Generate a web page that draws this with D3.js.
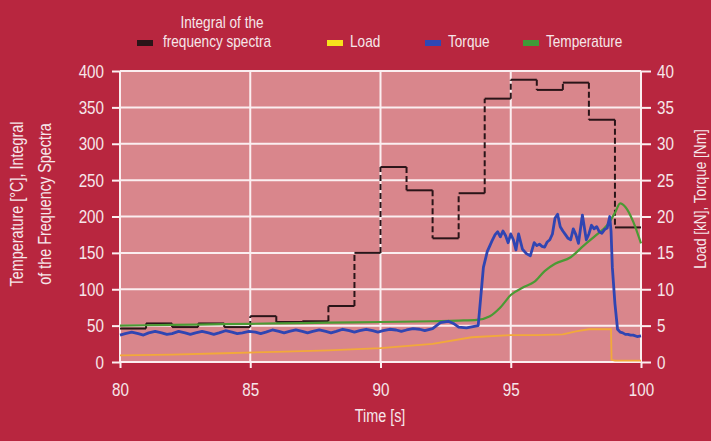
<!DOCTYPE html>
<html>
<head>
<script src="https://cdnjs.cloudflare.com/ajax/libs/d3/7.8.5/d3.min.js"></script>
<style>
  body { margin: 0; background: #b8263f; }
  svg text { font-family: "Liberation Sans", Arimo, sans-serif; fill: #f6e6ea; }
</style>
</head>
<body>
<div id="viz"></div>
<script>
// integral of the frequency spectra: one value per 1 s step (left axis)
var integralT = [80, 81, 82, 83, 84, 85, 86, 87, 88, 89, 90, 91, 92, 93, 94, 95, 96, 97, 98, 99, 100];
var integralV = [46, 53, 48, 53, 48, 63, 55, 56, 77, 150, 268, 236, 170, 232, 362, 388, 374, 384, 333, 185];

// temperature [°C] (left axis)
var tempT = [80, 82, 84, 86, 88, 90, 92, 93, 93.7, 94.2, 94.6, 95, 95.5, 95.9, 96.3, 96.7, 97.3, 97.8, 98.3, 98.7, 99, 99.2, 99.4, 99.7, 100];
var tempV = [50, 51, 52, 53, 54, 55, 56, 57, 58, 63, 75, 92, 103, 110, 125, 135, 144, 160, 175, 188, 205, 218, 213, 193, 163];

// load [kN] (right axis)
var loadT = [80, 82, 84, 86, 88, 90, 92, 93.5, 95, 96, 97, 97.5, 98, 98.85, 98.87, 99, 100];
var loadV = [0.9, 1.0, 1.2, 1.4, 1.6, 1.9, 2.5, 3.4, 3.7, 3.7, 3.8, 4.2, 4.5, 4.5, 0.3, 0.2, 0.2];

// torque [Nm] (right axis)
var torqueT = [80, 80.2, 80.45, 80.7, 80.9, 81.1, 81.35, 81.6, 81.8, 82.0, 82.25, 82.5, 82.7, 82.9, 83.15, 83.4, 83.6, 83.8,
  84.05, 84.3, 84.5, 84.7, 84.95, 85.2, 85.4, 85.6, 85.85, 86.1, 86.3, 86.5, 86.75, 87.0, 87.2, 87.4, 87.65, 87.9, 88.1,
  88.3, 88.55, 88.8, 89, 89.2, 89.45, 89.7, 89.9, 90.1, 90.35, 90.6, 90.8, 91.0, 91.25, 91.5, 91.7, 92, 92.3, 92.6, 92.8,
  93, 93.3, 93.6, 93.75,
  93.85, 93.95, 94.1, 94.2, 94.3, 94.4, 94.5, 94.6, 94.7, 94.8, 94.9, 95, 95.1, 95.2, 95.3, 95.45, 95.6, 95.75, 95.9,
  96.0, 96.1, 96.2, 96.3, 96.4, 96.5, 96.6, 96.7, 96.8, 96.9, 97.0, 97.1, 97.2, 97.3, 97.4, 97.5, 97.6, 97.75, 97.9,
  98.0, 98.1, 98.2, 98.3, 98.4, 98.5, 98.6, 98.7, 98.8, 98.85, 98.9, 99, 99.1, 99.2, 99.3, 99.4, 99.5, 99.6, 99.7,
  99.85, 100];
var torqueV = [3.7, 3.9, 4.1, 3.9, 3.7, 4.0, 4.2, 4.0, 3.8, 3.9, 4.2, 4.0, 3.8, 4.0, 4.2, 4.0, 3.8, 4.0,
  4.3, 4.1, 3.9, 4.0, 4.2, 4.1, 3.9, 4.1, 4.4, 4.2, 4.0, 4.2, 4.4, 4.2, 4.0, 4.2, 4.4, 4.2, 4.0,
  4.2, 4.5, 4.3, 4.1, 4.3, 4.5, 4.3, 4.1, 4.3, 4.5, 4.4, 4.2, 4.4, 4.6, 4.5, 4.3, 4.6, 5.4, 5.6, 5.3,
  4.8, 4.7, 4.9, 5.0,
  9, 13, 15.2, 16.0, 16.8, 17.5, 17.9, 17.2, 18.0, 17.4, 16.4, 17.6, 16.8, 15.4, 17.6, 15.5, 14.9, 14.6, 16.4,
  16.0, 16.2, 15.9, 15.8, 16.5, 16.8, 17.6, 19.8, 20.3, 18.6, 18.0, 17.5, 17.0, 16.8, 18.3, 17.5, 16.3, 20.2, 16.8,
  17.6, 18.8, 18.3, 18.6, 17.9, 17.7, 18.2, 18.4, 20.0, 18.0, 13.0, 8.0, 4.5, 4.1, 4.0, 3.8, 3.8, 3.7, 3.7,
  3.5, 3.6];

var xTicks = [80, 85, 90, 95, 100];
var leftTicks = [0, 50, 100, 150, 200, 250, 300, 350, 400];
var rightTicks = [0, 5, 10, 15, 20, 25, 30, 35, 40];

var legendNames = ["Integral of the|frequency spectra", "Load", "Torque", "Temperature"];
var legendColors = ["#2a1418", "#f7e21c", "#2f47b5", "#3f9a38"];

var W = 711, H = 441;
var svg = d3.select("#viz").append("svg").attr("width", W).attr("height", H);
svg.append("rect").attr("width", W).attr("height", H).attr("fill", "#b8263f");

var x = d3.scaleLinear().domain([80, 100]).range([120, 641]);
var yL = d3.scaleLinear().domain([0, 400]).range([362, 71]);
var yR = d3.scaleLinear().domain([0, 40]).range([362, 71]);

// plot panel
svg.append("rect").attr("x", x(80)).attr("y", yL(400))
  .attr("width", x(100) - x(80)).attr("height", yL(0) - yL(400))
  .attr("fill", "#d9868c");

// grid
svg.append("g").selectAll("line").data(leftTicks).enter().append("line")
  .attr("x1", x(80)).attr("x2", x(100)).attr("y1", d => yL(d)).attr("y2", d => yL(d))
  .attr("stroke", "#fbeef0").attr("stroke-width", 2);
svg.append("g").selectAll("line").data(xTicks).enter().append("line")
  .attr("y1", yL(0)).attr("y2", yL(400)).attr("x1", d => x(d)).attr("x2", d => x(d))
  .attr("stroke", "#fbeef0").attr("stroke-width", 2);

// axes
function styleAxis(g) {
  g.select(".domain").remove();
  g.selectAll(".tick line").attr("stroke", "#fbeef0").attr("stroke-width", 2);
  g.selectAll(".tick text").attr("font-size", "19px").attr("fill", "#f6e6ea");
}
svg.append("g").attr("transform", "translate(" + x(80) + ",0)")
  .call(d3.axisLeft(yL).tickValues(leftTicks).tickSize(8).tickPadding(8))
  .call(styleAxis);
svg.append("g").attr("transform", "translate(" + x(100) + ",0)")
  .call(d3.axisRight(yR).tickValues(rightTicks).tickSize(10).tickPadding(6))
  .call(styleAxis);
svg.append("g").attr("transform", "translate(0," + yL(0) + ")")
  .call(d3.axisBottom(x).tickValues(xTicks).tickSize(6).tickPadding(15))
  .call(styleAxis);

// axis titles
svg.append("text").attr("transform", "translate(380,422)").attr("text-anchor", "middle")
  .attr("font-size", "18px").text("Time [s]");
var lt = svg.append("text").attr("transform", "translate(23,204) rotate(-90)").attr("text-anchor", "middle")
  .attr("font-size", "18px");
lt.append("tspan").attr("x", 0).attr("dy", 0).text("Temperature [°C], Integral");
lt.append("tspan").attr("x", 0).attr("dy", 28).text("of the Frequency Spectra");
svg.append("text").attr("transform", "translate(706,199) rotate(-90)").attr("text-anchor", "middle")
  .attr("font-size", "17px").text("Load [kN], Torque [Nm]");

// integral: solid steps, dashed risers
var segs = [], risers = [];
integralV.forEach(function(v, i) {
  segs.push([[integralT[i], v], [integralT[i + 1], v]]);
  if (i > 0) risers.push([[integralT[i], integralV[i - 1]], [integralT[i], v]]);
});
var lineL = d3.line().x(d => x(d[0])).y(d => yL(d[1]));
svg.append("g").selectAll("path").data(segs).enter().append("path")
  .attr("d", lineL).attr("fill", "none").attr("stroke", "#2a1418").attr("stroke-width", 2);
svg.append("g").selectAll("path").data(risers).enter().append("path")
  .attr("d", lineL).attr("fill", "none").attr("stroke", "#2a1418").attr("stroke-width", 2)
  .attr("stroke-dasharray", "6,3");

// load
var loadLine = d3.line().x((d, i) => x(loadT[i])).y(d => yR(d));
svg.append("path").attr("d", loadLine(loadV)).attr("fill", "none")
  .attr("stroke", "#f2a93a").attr("stroke-width", 1.8);

// temperature
var tempLine = d3.line().curve(d3.curveMonotoneX).x((d, i) => x(tempT[i])).y(d => yL(d));
svg.append("path").attr("d", tempLine(tempV)).attr("fill", "none")
  .attr("stroke", "#4b9a34").attr("stroke-width", 2.2);

// torque
var torqueLine = d3.line().x((d, i) => x(torqueT[i])).y(d => yR(d));
svg.append("path").attr("d", torqueLine(torqueV)).attr("fill", "none")
  .attr("stroke", "#3045b2").attr("stroke-width", 2.8).attr("stroke-linejoin", "round");

// legend
var legX = [137, 327, 425, 523];
legendNames.forEach(function(name, i) {
  svg.append("rect").attr("x", legX[i]).attr("y", 40).attr("width", 16).attr("height", 6)
    .attr("fill", legendColors[i]);
  var parts = name.split("|");
  if (parts.length > 1) {
    svg.append("text").attr("x", 222).attr("y", 28).attr("text-anchor", "middle")
      .attr("font-size", "17px").text(parts[0]);
    svg.append("text").attr("x", legX[i] + 26).attr("y", 47).attr("font-size", "17px").text(parts[1]);
  } else {
    svg.append("text").attr("x", legX[i] + 23).attr("y", 47).attr("font-size", "17px").text(name);
  }
});

// squeeze every label to look like the condensed face of the original
function squeeze(el) {
  var l = el.getComputedTextLength();
  el.setAttribute("textLength", l * 0.8);
  el.setAttribute("lengthAdjust", "spacingAndGlyphs");
}
svg.selectAll("text").each(function() {
  var spans = this.querySelectorAll("tspan");
  if (spans.length) spans.forEach(squeeze);
  else squeeze(this);
});
</script>
</body>
</html>
